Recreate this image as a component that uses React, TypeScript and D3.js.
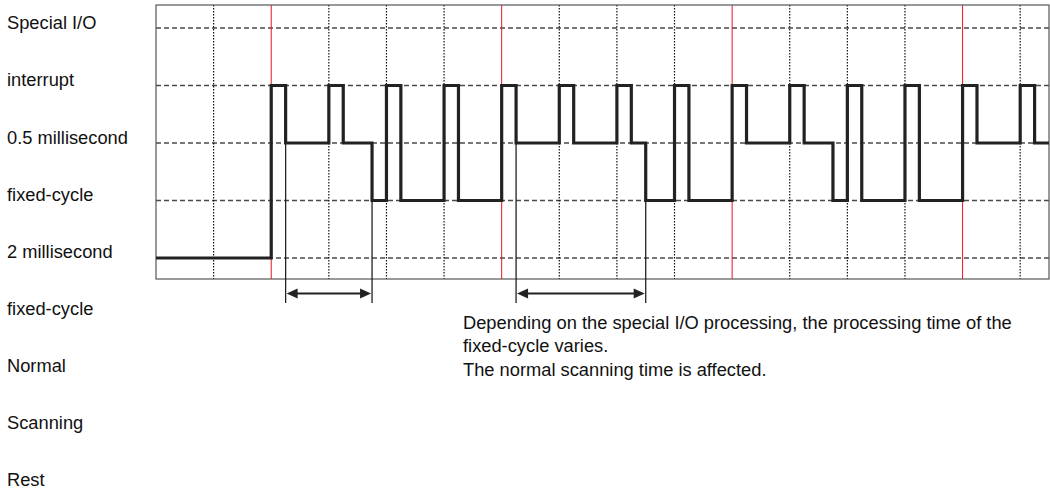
import React from "react";
import * as d3 from "d3";

// ---- data ----
const leftLabels = [
  "Special I/O",
  "interrupt",
  "0.5 millisecond",
  "fixed-cycle",
  "2 millisecond",
  "fixed-cycle",
  "Normal",
  "Scanning",
  "Rest",
];

// step waveform: change times (grid units) and the level held from that time on
const stepTimes = [
  0, 2, 2.25, 3, 3.25, 3.75, 4, 4.25, 5, 5.25,
  6, 6.25, 7, 7.25, 8, 8.25, 8.5, 9, 9.25, 10,
  10.25, 11, 11.25, 11.75, 12, 12.25, 13, 13.25, 14, 14.25,
  15, 15.25, 15.5,
];
const stepLevels = [
  0, 3, 2, 3, 2, 1, 3, 1, 3, 1,
  3, 2, 3, 2, 3, 2, 1, 3, 1, 3,
  2, 3, 2, 1, 3, 1, 3, 1, 3, 2,
  3, 2, 2,
];

const gridTimes = [1, 2, 3, 4, 5, 6, 7, 8, 9, 10, 11, 12, 13, 14, 15];
const redTimes = [2, 6, 10, 14];
const gridLevels = [0, 1, 2, 3, 4];

// measured spans (start, end) in grid units
const spanStarts = [2.25, 6.25];
const spanEnds = [3.75, 8.5];
const spanLevel = 2;

const noteLines = [
  "Depending on the special I/O processing, the processing time of the",
  "fixed-cycle varies.",
  "The normal scanning time is affected.",
];

// ---- layout ----
const W = 1050;
const H = 491;
const plot = { left: 156, right: 1049, top: 5, bottom: 279 };
const FONT = "'Liberation Sans', Arial, Helvetica, sans-serif";
const FS = 18.3;

export default function App() {
  const x = d3.scaleLinear().domain([0, 15.5]).range([plot.left, plot.right]);
  const y = d3.scaleLinear().domain([-0.365, 4.4]).range([plot.bottom, plot.top]);

  const pts: [number, number][] = stepTimes.map((t, i) => [t, stepLevels[i]]);
  const line = d3
    .line<[number, number]>()
    .x((d) => x(d[0]))
    .y((d) => y(d[1]))
    .curve(d3.curveStepAfter);

  const arrowY = 293.5;
  const tickBottom = 303;
  const headLen = 11;
  const headHalf = 5;

  return (
    <svg
      width={W}
      height={H}
      style={{ position: "absolute", left: 0, top: 0, background: "#fff" }}
      fontFamily={FONT}
    >
      <rect x={0} y={0} width={W} height={H} fill="#fff" />
      {/* horizontal dashed grid */}
      {gridLevels.map((l) => (
        <line
          key={"h" + l}
          x1={plot.left}
          x2={plot.right}
          y1={y(l)}
          y2={y(l)}
          stroke="#4a4a4a"
          strokeWidth={1.3}
          strokeDasharray="5,3"
        />
      ))}
      {/* vertical dotted grid */}
      {gridTimes
        .filter((t) => !redTimes.includes(t))
        .map((t) => (
          <line
            key={"v" + t}
            x1={x(t)}
            x2={x(t)}
            y1={plot.top}
            y2={plot.bottom}
            stroke="#111"
            strokeWidth={1.2}
            strokeDasharray="1.5,1.5"
          />
        ))}
      {/* red cycle lines */}
      {redTimes.map((t) => (
        <line
          key={"r" + t}
          x1={x(t)}
          x2={x(t)}
          y1={plot.top}
          y2={plot.bottom}
          stroke="#e8141e"
          strokeWidth={1}
        />
      ))}
      {/* frame */}
      <rect
        x={plot.left}
        y={plot.top}
        width={plot.right - plot.left}
        height={plot.bottom - plot.top}
        fill="none"
        stroke="#555"
        strokeWidth={1.2}
      />
      {/* span markers */}
      {spanStarts.map((s, i) => {
        const e = spanEnds[i];
        const xs = x(s);
        const xe = x(e);
        return (
          <g key={"sp" + i}>
            <line x1={xs} x2={xs} y1={y(spanLevel)} y2={tickBottom} stroke="#222" strokeWidth={1.3} />
            <line x1={xe} x2={xe} y1={y(spanLevel)} y2={tickBottom} stroke="#222" strokeWidth={1.3} />
            <line x1={xs + headLen - 1} x2={xe - headLen + 1} y1={arrowY} y2={arrowY} stroke="#222" strokeWidth={2} />
            <path
              d={`M${xs + 1},${arrowY} L${xs + 1 + headLen},${arrowY - headHalf} L${xs + 1 + headLen},${arrowY + headHalf} Z`}
              fill="#222"
            />
            <path
              d={`M${xe - 1},${arrowY} L${xe - 1 - headLen},${arrowY - headHalf} L${xe - 1 - headLen},${arrowY + headHalf} Z`}
              fill="#222"
            />
          </g>
        );
      })}
      {/* waveform */}
      <path d={line(pts) || ""} fill="none" stroke="#222" strokeWidth={3.2} strokeLinejoin="miter" />
      {/* left labels */}
      {leftLabels.map((t, i) => (
        <text key={"l" + i} x={7} y={29.3 + 57.1 * i} fontSize={FS} fill="#111">
          {t}
        </text>
      ))}
      {/* note */}
      {noteLines.map((t, i) => (
        <text key={"n" + i} x={463} y={328.5 + 23.6 * i} fontSize={FS} fill="#111">
          {t}
        </text>
      ))}
    </svg>
  );
}
